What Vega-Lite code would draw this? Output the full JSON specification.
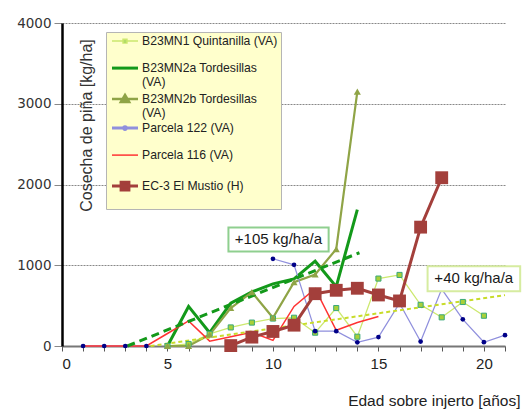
{
  "$schema": "https://vega.github.io/schema/vega-lite/v6.json",
  "width": 443,
  "height": 323,
  "autosize": "none",
  "padding": {"left": 62, "top": 23, "right": 17, "bottom": 68},
  "background": "white",
  "config": {"view": {"stroke": null}, "font": "Liberation Sans"},
  "datasets": {
    "series": [
      {"s": "B23MN1 Quintanilla (VA)", "seg": "a", "x": 5, "y": 0},
      {"s": "B23MN1 Quintanilla (VA)", "seg": "a", "x": 6, "y": 25},
      {"s": "B23MN1 Quintanilla (VA)", "seg": "a", "x": 7, "y": 150},
      {"s": "B23MN1 Quintanilla (VA)", "seg": "a", "x": 8, "y": 230},
      {"s": "B23MN1 Quintanilla (VA)", "seg": "a", "x": 9, "y": 290},
      {"s": "B23MN1 Quintanilla (VA)", "seg": "a", "x": 10, "y": 340},
      {"s": "B23MN1 Quintanilla (VA)", "seg": "a", "x": 11, "y": 350},
      {"s": "B23MN1 Quintanilla (VA)", "seg": "a", "x": 12, "y": 165},
      {"s": "B23MN1 Quintanilla (VA)", "seg": "a", "x": 13, "y": 470},
      {"s": "B23MN1 Quintanilla (VA)", "seg": "a", "x": 14, "y": 115},
      {"s": "B23MN1 Quintanilla (VA)", "seg": "a", "x": 15, "y": 835},
      {"s": "B23MN1 Quintanilla (VA)", "seg": "a", "x": 16, "y": 880},
      {"s": "B23MN1 Quintanilla (VA)", "seg": "a", "x": 17, "y": 510},
      {"s": "B23MN1 Quintanilla (VA)", "seg": "a", "x": 18, "y": 355},
      {"s": "B23MN1 Quintanilla (VA)", "seg": "a", "x": 19, "y": 545},
      {"s": "B23MN1 Quintanilla (VA)", "seg": "a", "x": 20, "y": 375},
      {"s": "B23MN2a Tordesillas (VA)", "seg": "a", "x": 5, "y": 0},
      {"s": "B23MN2a Tordesillas (VA)", "seg": "a", "x": 6, "y": 490},
      {"s": "B23MN2a Tordesillas (VA)", "seg": "a", "x": 7, "y": 165},
      {"s": "B23MN2a Tordesillas (VA)", "seg": "a", "x": 8, "y": 530},
      {"s": "B23MN2a Tordesillas (VA)", "seg": "a", "x": 9, "y": 670},
      {"s": "B23MN2a Tordesillas (VA)", "seg": "a", "x": 10, "y": 770},
      {"s": "B23MN2a Tordesillas (VA)", "seg": "a", "x": 11, "y": 830},
      {"s": "B23MN2a Tordesillas (VA)", "seg": "a", "x": 12, "y": 1050},
      {"s": "B23MN2a Tordesillas (VA)", "seg": "a", "x": 13, "y": 735},
      {"s": "B23MN2a Tordesillas (VA)", "seg": "a", "x": 14, "y": 1690},
      {"s": "B23MN2b Tordesillas (VA)", "seg": "a", "x": 5, "y": 0},
      {"s": "B23MN2b Tordesillas (VA)", "seg": "a", "x": 6, "y": 0},
      {"s": "B23MN2b Tordesillas (VA)", "seg": "a", "x": 7, "y": 140},
      {"s": "B23MN2b Tordesillas (VA)", "seg": "a", "x": 8, "y": 470},
      {"s": "B23MN2b Tordesillas (VA)", "seg": "a", "x": 9, "y": 667},
      {"s": "B23MN2b Tordesillas (VA)", "seg": "a", "x": 10, "y": 350},
      {"s": "B23MN2b Tordesillas (VA)", "seg": "a", "x": 11, "y": 790},
      {"s": "B23MN2b Tordesillas (VA)", "seg": "a", "x": 12, "y": 886},
      {"s": "B23MN2b Tordesillas (VA)", "seg": "a", "x": 13, "y": 1200},
      {"s": "B23MN2b Tordesillas (VA)", "seg": "a", "x": 14, "y": 3150},
      {"s": "Parcela 122 (VA)", "seg": "a", "x": 1, "y": 0},
      {"s": "Parcela 122 (VA)", "seg": "a", "x": 2, "y": 0},
      {"s": "Parcela 122 (VA)", "seg": "a", "x": 3, "y": 0},
      {"s": "Parcela 122 (VA)", "seg": "a", "x": 4, "y": 0},
      {"s": "Parcela 122 (VA)", "seg": "b", "x": 10, "y": 1080},
      {"s": "Parcela 122 (VA)", "seg": "b", "x": 11, "y": 1005},
      {"s": "Parcela 122 (VA)", "seg": "b", "x": 12, "y": 184},
      {"s": "Parcela 122 (VA)", "seg": "b", "x": 13, "y": 184},
      {"s": "Parcela 122 (VA)", "seg": "b", "x": 14, "y": 45},
      {"s": "Parcela 122 (VA)", "seg": "b", "x": 15, "y": 110},
      {"s": "Parcela 122 (VA)", "seg": "b", "x": 16, "y": 530},
      {"s": "Parcela 122 (VA)", "seg": "b", "x": 17, "y": 55},
      {"s": "Parcela 122 (VA)", "seg": "b", "x": 18, "y": 705},
      {"s": "Parcela 122 (VA)", "seg": "b", "x": 19, "y": 330},
      {"s": "Parcela 122 (VA)", "seg": "b", "x": 20, "y": 47},
      {"s": "Parcela 122 (VA)", "seg": "b", "x": 21, "y": 134},
      {"s": "Parcela 116 (VA)", "seg": "a", "x": 1, "y": 0},
      {"s": "Parcela 116 (VA)", "seg": "a", "x": 2, "y": 0},
      {"s": "Parcela 116 (VA)", "seg": "a", "x": 3, "y": 0},
      {"s": "Parcela 116 (VA)", "seg": "a", "x": 4, "y": 0},
      {"s": "Parcela 116 (VA)", "seg": "a", "x": 5, "y": 155},
      {"s": "Parcela 116 (VA)", "seg": "a", "x": 6, "y": 310},
      {"s": "Parcela 116 (VA)", "seg": "a", "x": 7, "y": 60},
      {"s": "Parcela 116 (VA)", "seg": "a", "x": 8, "y": 115},
      {"s": "Parcela 116 (VA)", "seg": "a", "x": 9, "y": 170},
      {"s": "Parcela 116 (VA)", "seg": "a", "x": 10, "y": 70},
      {"s": "Parcela 116 (VA)", "seg": "a", "x": 11, "y": 490},
      {"s": "Parcela 116 (VA)", "seg": "a", "x": 12, "y": 710},
      {"s": "Parcela 116 (VA)", "seg": "a", "x": 13, "y": 195},
      {"s": "Parcela 116 (VA)", "seg": "a", "x": 14, "y": 290},
      {"s": "Parcela 116 (VA)", "seg": "a", "x": 15, "y": 365},
      {"s": "EC-3 El Mustio (H)", "seg": "a", "x": 8, "y": 5},
      {"s": "EC-3 El Mustio (H)", "seg": "a", "x": 9, "y": 110},
      {"s": "EC-3 El Mustio (H)", "seg": "a", "x": 10, "y": 180},
      {"s": "EC-3 El Mustio (H)", "seg": "a", "x": 11, "y": 258},
      {"s": "EC-3 El Mustio (H)", "seg": "a", "x": 12, "y": 648},
      {"s": "EC-3 El Mustio (H)", "seg": "a", "x": 13, "y": 690},
      {"s": "EC-3 El Mustio (H)", "seg": "a", "x": 14, "y": 715},
      {"s": "EC-3 El Mustio (H)", "seg": "a", "x": 15, "y": 632},
      {"s": "EC-3 El Mustio (H)", "seg": "a", "x": 16, "y": 558},
      {"s": "EC-3 El Mustio (H)", "seg": "a", "x": 17, "y": 1472},
      {"s": "EC-3 El Mustio (H)", "seg": "a", "x": 18, "y": 2084}
    ],
    "trend": [
      {"t": "105", "x": 3.1, "y": 0},
      {"t": "105", "x": 14.1, "y": 1155},
      {"t": "40", "x": 4.2, "y": 0},
      {"t": "40", "x": 21, "y": 630}
    ],
    "notes": [
      {"label": "+105 kg/ha/a", "x": 10.26, "y": 1320, "x1": 7.89, "x2": 12.64, "y1": 1171, "y2": 1468},
      {"label": "+40 kg/ha/a", "x": 19.52, "y": 836, "x1": 17.33, "x2": 21.72, "y1": 679, "y2": 989}
    ]
  },
  "encoding": {
    "x": {"field": "x", "type": "quantitative", "scale": {"domain": [0, 21], "nice": false, "zero": false},
      "axis": {"values": [0,1,2,3,4,5,6,7,8,9,10,11,12,13,14,15,16,17,18,19,20,21],
        "labelExpr": "datum.value % 5 == 0 ? datum.label : ''",
        "grid": false, "tickSize": 5, "tickColor": "#555", "domainColor": "#777", "domainWidth": 2,
        "labelFont": "Liberation Sans", "labelFontSize": 15, "labelColor": "#222", "labelPadding": 5,
        "title": "Edad sobre injerto [años]", "titleFont": "Liberation Sans", "titleFontSize": 15.5, "titleFontWeight": "normal",
        "titleColor": "#222", "titleAlign": "right", "titleAnchor": null, "titleX": 458, "titleY": 54, "titleBaseline": "middle"}},
    "y": {"field": "y", "type": "quantitative", "scale": {"domain": [0, 4000], "nice": false},
      "axis": {"values": [0, 1000, 2000, 3000, 4000], "format": "d",
        "grid": true, "gridColor": "#888", "gridDash": [2, 1], "gridWidth": 1,
        "tickSize": 8, "tickColor": "#888", "domainColor": "#000", "domainWidth": 2.5,
        "labelFont": "DejaVu Sans", "labelFontSize": 13.5, "labelColor": "#333", "labelPadding": 3,
        "title": "Cosecha de piña [kg/ha]", "titleFont": "Liberation Sans", "titleFontSize": 16, "titleFontWeight": "normal",
        "titleColor": "#333", "titleAngle": -90, "titleX": 24, "titleY": 102, "titleAlign": "center", "titleBaseline": "middle"}}
  },
  "layer": [
    {
      "data": {"name": "series"},
      "mark": {"type": "line", "strokeWidth": 1.3},
      "transform": [{"filter": "datum.s == 'B23MN1 Quintanilla (VA)'"}],
      "encoding": {
        "color": {"field": "s", "type": "nominal",
          "scale": {"domain": ["B23MN1 Quintanilla (VA)", "B23MN2a Tordesillas (VA)", "B23MN2b Tordesillas (VA)", "Parcela 122 (VA)", "Parcela 116 (VA)", "EC-3 El Mustio (H)"],
            "range": ["#cce86e", "#13991a", "#8fa446", "#8f8fdd", "#ff3333", "#a33f3b"]},
          "legend": {
            "orient": "none", "legendX": 44, "legendY": 9, "title": null,
            "fillColor": "#ffffcc", "strokeColor": "#b5b5b5", "padding": 3,
            "symbolSize": 676, "symbolType": "stroke", "symbolStrokeWidth": 2,
            "labelFont": "Liberation Sans", "labelFontSize": 12.2, "labelColor": "#222", "labelLimit": 300, "labelOffset": 4,
            "rowPadding": 1,
            "labelExpr": "datum.label == 'B23MN2a Tordesillas (VA)' ? ['B23MN2a Tordesillas', '(VA)'] : datum.label == 'B23MN2b Tordesillas (VA)' ? ['B23MN2b Tordesillas', '(VA)'] : [datum.label, ' ']",
            "encode": {
              "symbols": {"update": {
                "x": {"value": 16},
                "size": {"value": 676},
                "shape": {"signal": "datum.value == 'B23MN1 Quintanilla (VA)' ? 'M-1,0H1M-0.15,-0.15H0.15V0.15H-0.15Z' : datum.value == 'B23MN2b Tordesillas (VA)' ? 'M-1,0H1M0,-0.32L0.32,0.22H-0.32Z' : datum.value == 'Parcela 122 (VA)' ? 'M-1,0H1M0.1,0A0.1,0.1,0,1,1,-0.1,0A0.1,0.1,0,1,1,0.1,0Z' : datum.value == 'EC-3 El Mustio (H)' ? 'M-1,0H1M-0.3,-0.3H0.3V0.3H-0.3Z' : 'M-1,0H1'"},
                "strokeWidth": {"signal": "datum.value == 'B23MN2a Tordesillas (VA)' ? 3 : datum.value == 'EC-3 El Mustio (H)' ? 3 : datum.value == 'Parcela 122 (VA)' ? 3 : datum.value == 'B23MN2b Tordesillas (VA)' ? 2.5 : 1.5"},
                "stroke": {"signal": "datum.value == 'Parcela 122 (VA)' ? '#a8a8b8' : datum.value == 'EC-3 El Mustio (H)' ? '#b86a66' : scale('color', datum.value)"},
                "fill": {"signal": "datum.value == 'B23MN1 Quintanilla (VA)' ? '#66bb55' : datum.value == 'Parcela 122 (VA)' ? '#000088' : datum.value == 'EC-3 El Mustio (H)' ? '#a33f3b' : scale('color', datum.value)"},
                "fillOpacity": {"value": 1}
              }},
              "labels": {"update": {"x": {"value": 33}, "lineHeight": {"value": 13.5}}}
            }
          }},
        "detail": {"field": "seg"}
      }
    },
    {
      "data": {"name": "series"},
      "mark": {"type": "line", "strokeWidth": 3},
      "transform": [{"filter": "datum.s == 'B23MN2a Tordesillas (VA)'"}],
      "encoding": {"color": {"field": "s", "type": "nominal"}}
    },
    {
      "data": {"name": "series"},
      "mark": {"type": "line", "strokeWidth": 2.2},
      "transform": [{"filter": "datum.s == 'B23MN2b Tordesillas (VA)'"}],
      "encoding": {"color": {"field": "s", "type": "nominal"}}
    },
    {
      "data": {"name": "series"},
      "mark": {"type": "line", "strokeWidth": 1.2},
      "transform": [{"filter": "datum.s == 'Parcela 122 (VA)'"}],
      "encoding": {"color": {"field": "s", "type": "nominal"}, "detail": {"field": "seg"}}
    },
    {
      "data": {"name": "series"},
      "mark": {"type": "line", "strokeWidth": 1.5},
      "transform": [{"filter": "datum.s == 'Parcela 116 (VA)'"}],
      "encoding": {"color": {"field": "s", "type": "nominal"}}
    },
    {
      "data": {"name": "trend"},
      "mark": {"type": "line", "strokeWidth": 3, "color": "#13991a", "strokeDash": [8, 5]},
      "transform": [{"filter": "datum.t == '105'"}],
      "encoding": {}
    },
    {
      "data": {"name": "trend"},
      "mark": {"type": "line", "strokeWidth": 2, "color": "#c8dc2a", "strokeDash": [4, 3]},
      "transform": [{"filter": "datum.t == '40'"}],
      "encoding": {}
    },
    {
      "data": {"name": "series"},
      "mark": {"type": "point", "shape": "square", "filled": true, "size": 26, "color": "#a8d038", "stroke": "#3aa87a", "strokeWidth": 1, "opacity": 1},
      "transform": [{"filter": "datum.s == 'B23MN1 Quintanilla (VA)'"}]
    },
    {
      "data": {"name": "series"},
      "mark": {"type": "point", "shape": "triangle-up", "filled": true, "size": 50, "color": "#8fa446", "opacity": 1},
      "transform": [{"filter": "datum.s == 'B23MN2b Tordesillas (VA)'"}]
    },
    {
      "data": {"name": "series"},
      "mark": {"type": "point", "shape": "circle", "filled": true, "size": 22, "color": "#000088", "opacity": 1},
      "transform": [{"filter": "datum.s == 'Parcela 122 (VA)'"}]
    },
    {
      "data": {"name": "series"},
      "mark": {"type": "line", "strokeWidth": 3},
      "transform": [{"filter": "datum.s == 'EC-3 El Mustio (H)'"}],
      "encoding": {"color": {"field": "s", "type": "nominal"}}
    },
    {
      "data": {"name": "series"},
      "mark": {"type": "point", "shape": "square", "filled": true, "size": 165, "color": "#a33f3b", "opacity": 1},
      "transform": [{"filter": "datum.s == 'EC-3 El Mustio (H)'"}]
    },
    {
      "data": {"name": "notes"},
      "mark": {"type": "rect", "fill": "white", "stroke": "#8fcf8f", "strokeWidth": 2},
      "transform": [{"filter": "datum.label == '+105 kg/ha/a'"}],
      "encoding": {"x": {"field": "x1", "type": "quantitative"}, "x2": {"field": "x2"}, "y": {"field": "y1", "type": "quantitative"}, "y2": {"field": "y2"}}
    },
    {
      "data": {"name": "notes"},
      "mark": {"type": "rect", "fill": "white", "stroke": "#d6eca0", "strokeWidth": 2},
      "transform": [{"filter": "datum.label == '+40 kg/ha/a'"}],
      "encoding": {"x": {"field": "x1", "type": "quantitative"}, "x2": {"field": "x2"}, "y": {"field": "y1", "type": "quantitative"}, "y2": {"field": "y2"}}
    },
    {
      "data": {"name": "notes"},
      "mark": {"type": "text", "font": "Liberation Sans", "fontSize": 15, "color": "#1a1a1a", "align": "center", "baseline": "middle"},
      "encoding": {"text": {"field": "label"}}
    }
  ]
}
